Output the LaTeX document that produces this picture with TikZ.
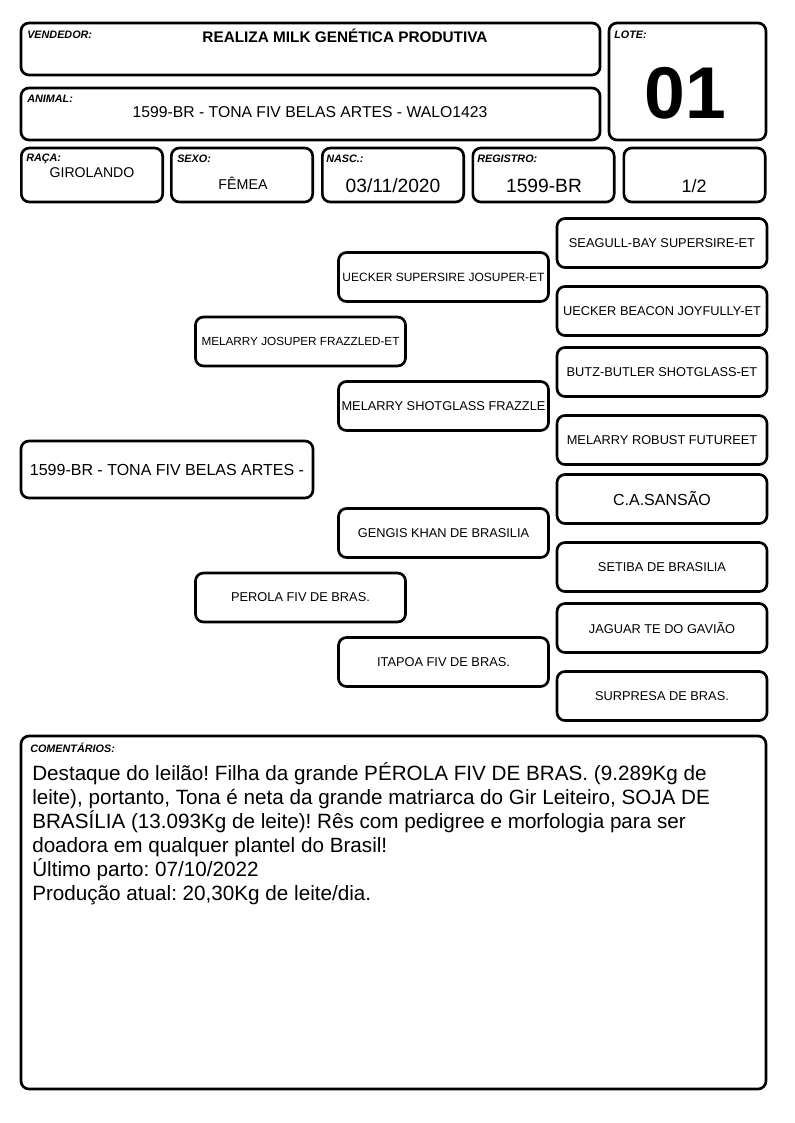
\documentclass[tikz,border=0pt]{standalone}
\usepackage{fontspec}
\setmainfont{Liberation Sans}
\usetikzlibrary{trees}
\frenchspacing

\begin{document}
\begin{tikzpicture}[x=0.75pt,y=-0.75pt]
	\tikzstyle{every node}=[inner sep=0pt]
	\tikzstyle{frame}=[draw,rectangle,rounded corners=6pt,line width=2pt]
	\tikzstyle{tag}=[anchor=base west,font=\fontsize{8.1}{9}\selectfont\bfseries\itshape]
	\tikzstyle{val}=[anchor=base]
	\tikzstyle{small cell}=[frame,minimum width=106pt,minimum height=40.5pt]
	\tikzstyle{ped}=[frame,minimum width=157.5pt,minimum height=36.75pt,font=\fontsize{9.6}{11}\selectfont]

	\useasboundingbox (0,0) rectangle (794,1123);

	% cabecalho
	\node[frame,minimum width=434.25pt,minimum height=39pt] (vend) at (310.5,49) {};
	\node[frame,minimum width=117.75pt,minimum height=87.75pt] (lote) at (687.5,81.5) {};
	\node[frame,minimum width=434.25pt,minimum height=39pt] (animal) at (310.5,114) {};
	\node[small cell] (raca) at (92,175) {};
	\node[small cell] (sexo) at (242,175) {};
	\node[small cell] (nasc) at (393,175) {};
	\node[small cell] (reg) at (543.5,175) {};
	\node[small cell] (frac) at (694.5,175) {};

	\node[tag] (vendtag) at (27,39) {VENDEDOR:};
	\node[tag] (lotetag) at (614,39) {LOTE:};
	\node[tag] (animaltag) at (27,103) {ANIMAL:};
	\node[tag] (racatag) at (26,162) {RAÇA:};
	\node[tag] (sexotag) at (177,163) {SEXO:};
	\node[tag] (nasctag) at (326,163) {NASC.:};
	\node[tag] (regtag) at (477,163) {REGISTRO:};

	\node[val,font=\fontsize{11.5}{13}\selectfont\bfseries] (vendval) at (345,43) {REALIZA MILK GENÉTICA PRODUTIVA};
	\node[val,font=\fontsize{55}{60}\selectfont\bfseries] (loteval) at (685,119) {01};
	\node[val,font=\fontsize{11.8}{14}\selectfont] (animalval) at (310,118) {1599-BR - TONA FIV BELAS ARTES - WALO1423};
	\node[val,font=\fontsize{10.6}{12}\selectfont] (racaval) at (92,178) {GIROLANDO};
	\node[val,font=\fontsize{10.7}{12}\selectfont] (sexoval) at (243,190) {FÊMEA};
	\node[val,font=\fontsize{14.4}{16}\selectfont] (nascval) at (393,193) {03/11/2020};
	\node[val,font=\fontsize{14.4}{16}\selectfont] (regval) at (544,193) {1599-BR};
	\node[val,font=\fontsize{13.5}{16}\selectfont] (fracval) at (694,193) {1/2};

	% genealogia
	\node[frame,minimum width=219pt,minimum height=42.75pt,font=\fontsize{12}{14}\selectfont] (tona) at (167,469.5) {1599-BR - TONA FIV BELAS ARTES -}
	[grow'=right,
	 every child node/.style={ped},
	 edge from parent/.style={draw=none},
	 level 1/.style={level distance=100.125pt,sibling distance=192pt},
	 level 2/.style={level distance=107.25pt,sibling distance=96.75pt},
	 level 3/.style={level distance=163.875pt,sibling distance=51pt}]
	child {
		node[font=\fontsize{8.8}{10}\selectfont] (pai) {MELARRY JOSUPER FRAZZLED-ET}
		child {
			node[font=\fontsize{9}{10}\selectfont] (avopp) {UECKER SUPERSIRE JOSUPER-ET}
			child { node (bisppp) {SEAGULL-BAY SUPERSIRE-ET} }
			child { node (bisppm) {UECKER BEACON JOYFULLY-ET} }
		}
		child {
			node (avopm) {MELARRY SHOTGLASS FRAZZLE}
			child { node (bispmp) {BUTZ-BUTLER SHOTGLASS-ET} }
			child { node (bispmm) {MELARRY ROBUST FUTUREET} }
		}
	}
	child {
		node (mae) {PEROLA FIV DE BRAS.}
		child {
			node (avomp) {GENGIS KHAN DE BRASILIA}
			child { node[font=\fontsize{12}{14}\selectfont] (bismpp) {C.A.SANSÃO} }
			child { node (bismpm) {SETIBA DE BRASILIA} }
		}
		child {
			node (avomm) {ITAPOA FIV DE BRAS.}
			child { node (bismmp) {JAGUAR TE DO GAVIÃO} }
			child { node (bismmm) {SURPRESA DE BRAS.} }
		}
	};

	% comentarios
	\node[frame,minimum width=558.75pt,minimum height=264.75pt] (coment) at (393.5,912.5) {};
	\node[tag] (comenttag) at (30,752) {COMENTÁRIOS:};
	\node[anchor=base west,align=left,font=\fontsize{15.5}{18}\selectfont] (comenttxt) at (32,900)
		{Destaque do leilão! Filha da grande PÉROLA FIV DE BRAS. (9.289Kg de\\
		leite), portanto, Tona é neta da grande matriarca do Gir Leiteiro, SOJA DE\\
		BRASÍLIA (13.093Kg de leite)! Rês com pedigree e morfologia para ser\\
		doadora em qualquer plantel do Brasil!\\
		Último parto: 07/10/2022\\
		Produção atual: 20,30Kg de leite/dia.};

\end{tikzpicture}
\end{document}
